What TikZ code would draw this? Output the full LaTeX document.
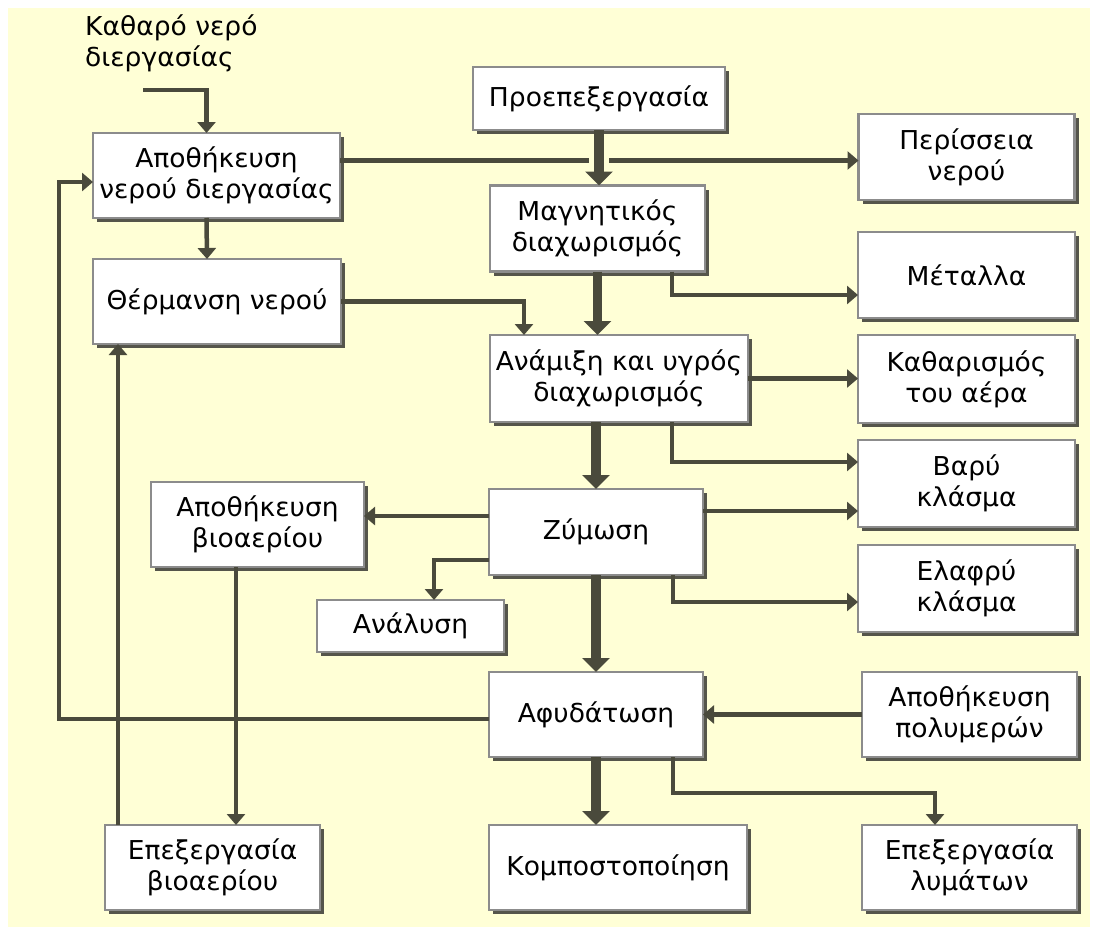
\documentclass[tikz,border=0pt]{standalone}
\usepackage{fontspec}
\setmainfont[FakeStretch=1.02]{DejaVu Sans}
\usetikzlibrary{
  arrows.meta,
  shadows
}
\definecolor{bgcream}{HTML}{FFFFD6}
\definecolor{linedark}{HTML}{4A4A3C}
\definecolor{boxedge}{HTML}{8C8C8C}
\definecolor{boxshade}{HTML}{55554B}

\begin{document}
\begin{tikzpicture}[
    x=1pt, y=-1pt,
    every node/.style={font=\fontsize{26}{31}\selectfont},
    procbox/.style={rectangle, draw=boxedge, line width=2.5pt, fill=white,
                 align=center, inner sep=0pt, outer sep=0pt,
                 drop shadow={shadow xshift=4pt, shadow yshift=-4pt, fill=boxshade, opacity=1}},
    inputtext/.style={align=left, inner sep=0pt},
    myarrow/.style={-{Triangle[width=18pt, length=11pt]}, line width=4.5pt, draw=linedark},
    mainarrow/.style={-{Triangle[width=27pt, length=14pt]}, line width=9.5pt, draw=linedark},
]

% background
\fill[white] (0,0) rectangle (1108,927);
\fill[bgcream] (8,8) rectangle (1090,927);

% left column
\node[inputtext, anchor=north west] (water) at (85,15) {Καθαρό νερό\\διεργασίας};
\node[procbox, minimum width=247pt, minimum height=85pt] (store) at (216.5,175.5) {Αποθήκευση\\νερού διεργασίας};
\node[procbox, minimum width=248pt, minimum height=85pt] (heat) at (217,301.5) {Θέρμανση νερού};
\node[procbox, minimum width=213pt, minimum height=85pt] (biost) at (257.5,524.5) {Αποθήκευση\\βιοαερίου};
\node[procbox, minimum width=187pt, minimum height=52pt] (anal) at (410.5,626) {Ανάλυση};
\node[procbox, minimum width=215pt, minimum height=85pt] (biopr) at (212.5,867.5) {Επεξεργασία\\βιοαερίου};

% main line
\node[procbox, minimum width=252pt, minimum height=63pt] (pre) at (599,98.5) {Προεπεξεργασία};
\node[procbox, minimum width=215pt, minimum height=86pt] (magn) at (597.5,228.5) {Μαγνητικός\\διαχωρισμός};
\node[procbox, minimum width=258pt, minimum height=87pt] (mix) at (619,378.5) {Ανάμιξη και υγρός\\διαχωρισμός};
\node[procbox, minimum width=214pt, minimum height=86pt] (ferm) at (596,532) {Ζύμωση};
\node[procbox, minimum width=214pt, minimum height=85pt] (dewat) at (596,714.5) {Αφυδάτωση};
\node[procbox, minimum width=258pt, minimum height=85pt] (comp) at (618,867.5) {Κομποστοποίηση};

% right column
\node[procbox, minimum width=216pt, minimum height=86pt] (excess) at (966.5,157) {Περίσσεια\\νερού};
\node[procbox, minimum width=217pt, minimum height=86pt] (metal) at (966.5,275) {Μέταλλα};
\node[procbox, minimum width=217pt, minimum height=88pt] (air) at (966.5,379) {Καθαρισμός\\του αέρα};
\node[procbox, minimum width=217pt, minimum height=87pt] (heavy) at (966.5,483.5) {Βαρύ\\κλάσμα};
\node[procbox, minimum width=217pt, minimum height=87pt] (light) at (966.5,588.5) {Ελαφρύ\\κλάσμα};
\node[procbox, minimum width=215pt, minimum height=85pt] (poly) at (969.5,714.5) {Αποθήκευση\\πολυμερών};
\node[procbox, minimum width=215pt, minimum height=85pt] (sewage) at (969.5,867.5) {Επεξεργασία\\λυμάτων};

% water side
\coordinate (waterin) at (143,90);
\draw[myarrow] (waterin) -| ([xshift=-10pt]store.north);
\draw[myarrow] ([xshift=-10pt]store.south) -- ([xshift=-10pt]heat.north);
\draw[myarrow] ([yshift=15pt]store.east) -- ([yshift=15pt]store.east -| excess.west);
\draw[myarrow] (heat.east) -| ([xshift=-95pt]mix.north);
\draw[myarrow] ([yshift=-4.5pt]dewat.west) -| ([xshift=-34pt, yshift=-6.5pt]store.west) -- ([yshift=-6.5pt]store.west);

% main flow
\draw[mainarrow, preaction={draw=bgcream, line width=20pt, -, shorten <=10pt, shorten >=10pt}]
  (pre.south) -- (pre.south |- magn.north);
\draw[mainarrow] (magn.south) -- (magn.south |- mix.north);
\draw[mainarrow] (ferm.north |- mix.south) -- (ferm.north);
\draw[mainarrow] (ferm.south) -- (dewat.north);
\draw[mainarrow] (dewat.south) -- (dewat.south |- comp.north);

% side outputs
\draw[myarrow] ([xshift=74.5pt]magn.south) |- ([yshift=-20pt]metal.west);
\draw[myarrow] (mix.east) -- (mix.east -| air.west);
\draw[myarrow] ([xshift=53pt]mix.south) |- ([yshift=21.5pt]heavy.west);
\draw[myarrow] ([yshift=21pt]ferm.east) -- ([yshift=21pt]ferm.east -| heavy.west);
\draw[myarrow] ([xshift=77pt]ferm.south) |- ([yshift=-13.5pt]light.west);
\draw[myarrow] ([yshift=16pt]ferm.west) -- ([yshift=16pt]ferm.west -| biost.east);
\draw[myarrow] ([yshift=-28pt]ferm.west) -| ([xshift=23.5pt]anal.north);
\draw[myarrow] (poly.west) -- (poly.west -| dewat.east);
\draw[myarrow] ([xshift=77pt]dewat.south) -- ++(0,36) -| ([xshift=-34.5pt]sewage.north);

% biogas
\draw[myarrow] ([xshift=-21.5pt]biost.south) -- ([xshift=-21.5pt]biost.south |- biopr.north);
\draw[myarrow] ([xshift=-94.5pt]biopr.north) -- ([xshift=-94.5pt]biopr.north |- heat.south);

\end{tikzpicture}
\end{document}
